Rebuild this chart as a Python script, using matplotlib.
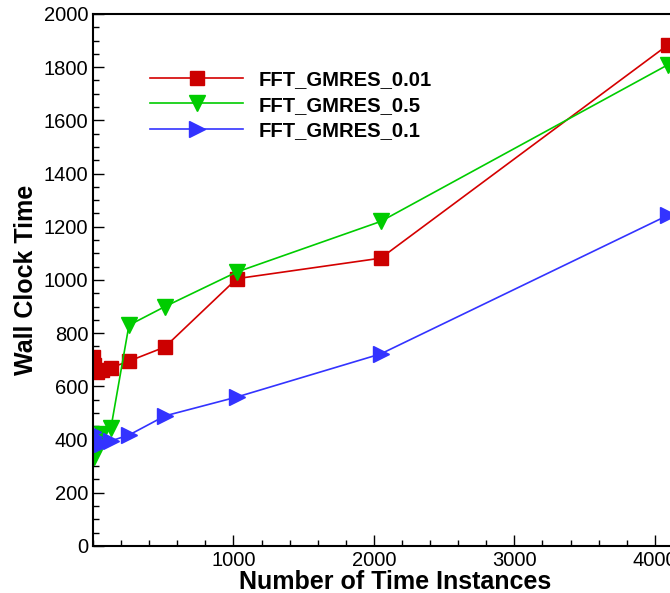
import matplotlib
matplotlib.use("Agg")
import matplotlib.pyplot as plt
from matplotlib.ticker import MultipleLocator, FixedLocator

plt.rcParams['font.family'] = ['Liberation Sans', 'DejaVu Sans']

instances = [2, 8, 32, 64, 128, 256, 512, 1024, 2048, 4096]
gmres_001 = [710, 680, 655, 660, 670, 695, 748, 1005, 1082, 1885]
gmres_05 = [350, 335, 385, 420, 445, 830, 900, 1030, 1220, 1810]
gmres_01 = [430, 410, 395, 385, 395, 417, 489, 560, 722, 1244]
labels = ["FFT_GMRES_0.01", "FFT_GMRES_0.5", "FFT_GMRES_0.1"]

fig = plt.figure(figsize=(6.70, 5.93), dpi=100)
ax = fig.add_axes([0.1388, 0.0793, 0.9015, 0.8971])

ax.plot(instances, gmres_001, color='#d40000', lw=1.2, marker='s', ms=10,
        mfc='#cc0000', mec='#cc0000', label=labels[0])
ax.plot(instances, gmres_05, color='#00cc00', lw=1.2, marker='v', ms=11,
        mfc='#00cc00', mec='#00cc00', label=labels[1])
ax.plot(instances, gmres_01, color='#3333ff', lw=1.2, marker='>', ms=11,
        mfc='#3333ff', mec='#3333ff', label=labels[2])

ax.set_xlim(0, 4300)
ax.set_ylim(0, 2000)
ax.xaxis.set_major_locator(FixedLocator([1000, 2000, 3000, 4000]))
ax.xaxis.set_minor_locator(MultipleLocator(200))
ax.yaxis.set_major_locator(MultipleLocator(200))
ax.yaxis.set_minor_locator(MultipleLocator(50))
ax.tick_params(which='both', direction='in', width=1.0, labelsize=14.5,
               top=False, right=False)
ax.tick_params(which='major', length=8)
ax.tick_params(which='minor', length=4.5)
for s in ax.spines.values():
    s.set_linewidth(1.5)

ax.set_xlabel("Number of Time Instances", fontsize=18, fontweight='bold', labelpad=0)
ax.set_ylabel("Wall Clock Time", fontsize=18, fontweight='bold', labelpad=4)

leg = ax.legend(loc='upper left', bbox_to_anchor=(0.081, 0.910), frameon=False,
                handlelength=4.6, fontsize=14.6, labelspacing=0.325,
                handletextpad=0.74, borderaxespad=0)
for t in leg.get_texts():
    t.set_fontweight('bold')

fig.savefig("out.png", dpi=100)
